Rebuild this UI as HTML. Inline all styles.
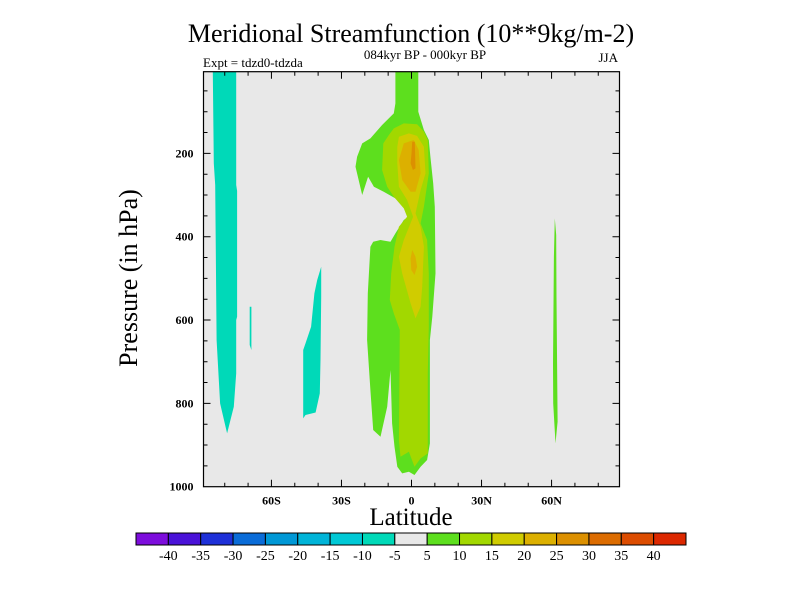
<!DOCTYPE html>
<html><head><meta charset="utf-8"><style>
body{margin:0;background:#fff;}
svg text{font-family:"Liberation Serif",serif;fill:#000;}
</style></head><body>
<svg id="chart" width="800" height="600" viewBox="0 0 800 600" xmlns="http://www.w3.org/2000/svg">
<text x="411" y="42" font-size="26" text-anchor="middle">Meridional Streamfunction (10**9kg/m-2)</text>
<text x="425" y="59" font-size="13" text-anchor="middle">084kyr BP - 000kyr BP</text>
<text x="203" y="67" font-size="13">Expt = tdzd0-tdzda</text>
<text x="618" y="62" font-size="13" text-anchor="end">JJA</text>
<text transform="translate(137,278) rotate(-90)" font-size="26" text-anchor="middle">Pressure (in hPa)</text>
<text x="411" y="525" font-size="25" text-anchor="middle">Latitude</text>
<g id="plot"></g>
<g id="cbar"></g>
</svg>
<script>
const latTicks=[-60,-30,0,30,60];
const latTickLabels=['60S','30S','0','30N','60N'];
const presTicks=[200,400,600,800,1000];
const levelColors=['#7d0ddc','#4a12d8','#1e30d8','#0a6cd8','#0098d6','#00b4d8','#00c9d6','#00d9b8','#e8e8e8','#5ddf1e','#a2d800','#d0cc00','#dcb000','#dc9000','#dc6c00','#dc4c00','#dc2800'];
const levelLabels=['-40','-35','-30','-25','-20','-15','-10','-5','5','10','15','20','25','30','35','40'];
// contour regions: level index and [lat, pressure] vertices
const regionLevels=[7,7,7,9,9,10,11,12,12,13];
const regionNames=['teal-band-south-pole','teal-sliver-68s','teal-patch-40s','green-equatorial-cell','green-sliver-60n','lightgreen-core','yellow-core','gold-upper','gold-lower','orange-peak'];
const regionPts=[
[[-85.1,4],[-75.1,4],[-75.1,276],[-74.7,290],[-74.7,592],[-75.1,600],[-75.1,728],[-76.1,808],[-79,872],[-82,800],[-83.5,648],[-84.1,276],[-84.7,224]],
[[-69.3,568],[-68.6,568],[-68.6,672],[-69.3,660]],
[[-38.7,472],[-40.4,504],[-41.6,536],[-43,616],[-45.4,656],[-46.4,672],[-46.4,836],[-45.4,828],[-41.1,822],[-39.3,776],[-39,696],[-38.7,544]],
[[-6.9,4],[2.9,4],[2.9,100],[5.3,144],[7.4,168],[8.1,208],[9.3,272],[10,328],[10.3,488],[8.9,592],[7.9,648],[7.9,896],[6.7,936],[3.9,952],[1.3,972],[-1.1,964],[-4,968],[-6.1,952],[-7.3,904],[-8.3,848],[-9,720],[-10.4,808],[-13.3,880],[-16.4,864],[-17.6,768],[-19,648],[-18.7,536],[-17.6,424],[-16.4,412],[-13.3,408],[-9,412],[-6.9,392],[-3.3,360],[0.7,344],[-3.3,328],[-6.9,308],[-11.9,292],[-16.1,280],[-18.6,256],[-21.1,300],[-24,232],[-23.3,208],[-21.1,176],[-17.6,164],[-12.6,132],[-7.6,104],[-6.9,80]],
[[61.4,356],[62,396],[62.1,544],[62.6,844],[61.7,896],[60.7,800],[60.6,704],[61,448]],
[[-7.6,140],[-3.3,128],[2.4,130],[5.3,148],[7,168],[7.4,248],[5.3,328],[3.9,368],[6.7,408],[7.4,488],[7.4,616],[7,728],[7,920],[3.9,932],[1.3,952],[-1.1,916],[-4.7,928],[-5.4,888],[-5,624],[-7.6,584],[-9.3,552],[-8.7,488],[-7.3,424],[-5.4,376],[-1.9,352],[-3.3,332],[-7.6,304],[-10.4,280],[-12.6,240],[-12.1,176],[-9.7,156]],
[[-5.4,160],[-1.1,152],[2.4,158],[5.3,184],[6,248],[3.9,288],[1.7,344],[3.9,376],[5.3,424],[4.6,520],[3.9,568],[1.7,596],[-0.4,560],[-4,488],[-5.4,448],[-3.3,408],[0.7,352],[-1.9,312],[-5.4,280],[-6.1,224],[-6.1,184]],
[[-3.3,176],[1,168],[3.1,192],[3.9,248],[1.7,292],[-0.4,292],[-4,264],[-5.4,216]],
[[0.3,432],[1.7,448],[2.4,472],[1.3,492],[-0.1,480],[-0.4,452]],
[[0.3,172],[1.4,172],[1.7,236],[0.6,240],[-0.4,224],[0,200]]
];
const NS='http://www.w3.org/2000/svg';
const X0=203.5,X1=619.5,Y0=71.7,Y1=486.7,LATMIN=-89.1,LATMAX=89.1,PMIN=4,PMAX=1000;
function xs(lat){return X0+(lat-LATMIN)/(LATMAX-LATMIN)*(X1-X0);}
function ys(p){return Y0+(p-PMIN)/(PMAX-PMIN)*(Y1-Y0);}
function mk(tag,attrs,parent){const e=document.createElementNS(NS,tag);for(const k in attrs)e.setAttribute(k,attrs[k]);parent.appendChild(e);return e;}
const plot=document.getElementById('plot');
const bg=mk('rect',{x:X0,y:Y0,width:X1-X0,height:Y1-Y0,fill:'#e8e8e8'},plot);


regionPts.forEach((pts,i)=>{
  const poly=mk('polygon',{points:pts.map(d=>xs(d[0]).toFixed(1)+','+ys(d[1]).toFixed(1)).join(' '),fill:levelColors[regionLevels[i]]},plot);
  
  
});
const frame=mk('rect',{x:X0,y:Y0,width:X1-X0,height:Y1-Y0,fill:'none',stroke:'#000','stroke-width':1.2},plot);


for(let lat=-80;lat<=80;lat+=10){
  const x=xs(lat);const L=latTicks.includes(lat)?7:4;
  const t=mk('path',{d:`M${x},${Y1}v${-L}M${x},${Y0}v${L}`,stroke:'#000','stroke-width':1},plot);
  
  
}
latTicks.forEach((lat,i)=>{
  const t=mk('text',{x:xs(lat),y:Y1+18,'font-size':12,'font-weight':'bold','text-anchor':'middle'},plot);
  t.textContent=latTickLabels[i];
  
  
});
for(let p=50;p<1000;p+=50){
  const y=ys(p);const L=presTicks.includes(p)?7:4;
  const t=mk('path',{d:`M${X0},${y}h${L}M${X1},${y}h${-L}`,stroke:'#000','stroke-width':1},plot);
  
  
}
presTicks.forEach(p=>{
  const t=mk('text',{x:X0-10,y:ys(p)+4,'font-size':12,'font-weight':'bold','text-anchor':'end'},plot);
  t.textContent=p;
  
  
});
const cb=document.getElementById('cbar');
const CX0=136,CX1=686,CY=533,CH=12,bw=(CX1-CX0)/levelColors.length;
levelColors.forEach((c,i)=>{
  const r=mk('rect',{x:CX0+i*bw,y:CY,width:bw,height:CH,fill:c,stroke:'#000','stroke-width':1},cb);
  
  
});
levelLabels.forEach((l,i)=>{
  const t=mk('text',{x:CX0+(i+1)*bw,y:CY+CH+15,'font-size':14,'text-anchor':'middle'},cb);
  t.textContent=l;
  
  
});
</script>
</body></html>
